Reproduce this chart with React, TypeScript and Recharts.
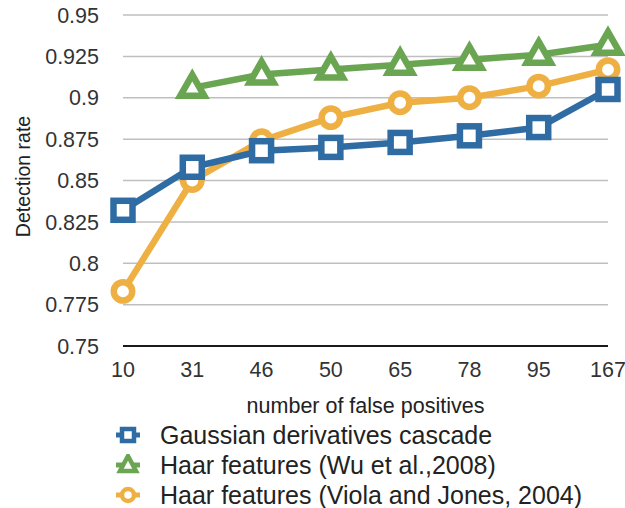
import React from 'react';
import { LineChart, Line, XAxis, YAxis, CartesianGrid, Legend } from 'recharts';

// number of false positives (x categories)
const falsePositives = ['10', '31', '46', '50', '65', '78', '95', '167'];
// detection rate per method
const gaussianCascade = [0.832, 0.858, 0.868, 0.87, 0.873, 0.877, 0.882, 0.905];
const haarWu = [null, 0.906, 0.914, 0.917, 0.92, 0.923, 0.926, 0.932];
const haarViola = [0.783, 0.85, 0.874, 0.888, 0.897, 0.9, 0.907, 0.917];
const rateTicks = [0.75, 0.775, 0.8, 0.825, 0.85, 0.875, 0.9, 0.925, 0.95];

const seriesNames = {
  gaussian: 'Gaussian derivatives cascade',
  wu: 'Haar features (Wu et al.,2008)',
  viola: 'Haar features (Viola and Jones, 2004)',
};

const data = falsePositives.map((fp, i) => ({
  fp,
  gaussian: gaussianCascade[i],
  wu: haarWu[i],
  viola: haarViola[i],
}));

const BLUE = '#2e6ca3';
const GREEN = '#6aa552';
const ORANGE = '#efb043';
const FONT = '"Liberation Sans", Arial, sans-serif';

const SquareDot = (props: any) => {
  const { cx, cy, index } = props;
  if (cx == null || cy == null) return <g key={`sq-${index}`} />;
  return (
    <rect key={`sq-${index}`} x={cx - 9.5} y={cy - 9.5} width={19} height={19}
      fill="#fff" stroke={BLUE} strokeWidth={6.5} />
  );
};

const TriangleDot = (props: any) => {
  const { cx, cy, index } = props;
  if (cx == null || cy == null) return <g key={`tr-${index}`} />;
  return (
    <path key={`tr-${index}`} d={`M${cx},${cy - 13} L${cx + 12},${cy + 8} L${cx - 12},${cy + 8} Z`}
      fill="#fff" stroke={GREEN} strokeWidth={6.5} strokeLinejoin="miter" />
  );
};

const CircleDot = (props: any) => {
  const { cx, cy, index } = props;
  if (cx == null || cy == null) return <g key={`ci-${index}`} />;
  return <circle key={`ci-${index}`} cx={cx} cy={cy} r={9.2} fill="#fff" stroke={ORANGE} strokeWidth={6.5} />;
};

const legendRows = [
  { key: 'gaussian', color: BLUE, shape: 'square' },
  { key: 'wu', color: GREEN, shape: 'triangle' },
  { key: 'viola', color: ORANGE, shape: 'circle' },
];

function LegendIcon({ color, shape }: { color: string; shape: string }) {
  return (
    <svg width={24} height={22} style={{ display: 'block' }}>
      <line x1={0} y1={11} x2={24} y2={11} stroke={color} strokeWidth={5} />
      {shape === 'square' && <rect x={6} y={5} width={12} height={12} fill="#fff" stroke={color} strokeWidth={4.5} />}
      {shape === 'triangle' && <path d="M12,2 L20,17 L4,17 Z" fill="#fff" stroke={color} strokeWidth={4.5} />}
      {shape === 'circle' && <circle cx={12} cy={11} r={6} fill="#fff" stroke={color} strokeWidth={4.5} />}
    </svg>
  );
}

function MethodLegend() {
  return (
    <div style={{ height: 90, fontFamily: FONT }}>
      {legendRows.map((r) => (
        <div key={r.key} style={{ display: 'flex', alignItems: 'center', height: 30 }}>
          <LegendIcon color={r.color} shape={r.shape} />
          <span style={{ marginLeft: 20, fontSize: 25, color: '#222', whiteSpace: 'nowrap' }}>
            {seriesNames[r.key as keyof typeof seriesNames]}
          </span>
        </div>
      ))}
    </div>
  );
}

const XTitle = ({ viewBox }: any) => (
  <text x={viewBox.x + viewBox.width / 2} y={viewBox.y + 67} textAnchor="middle"
    fontFamily={FONT} fontSize={21.5} fill="#222">
    number of false positives
  </text>
);

const YTitle = ({ viewBox }: any) => {
  const x = viewBox.x + 30;
  const y = viewBox.y + viewBox.height / 2 - 4;
  return (
    <text x={x} y={y} textAnchor="middle" transform={`rotate(-90, ${x}, ${y})`}
      fontFamily={FONT} fontSize={19.5} fill="#222">
      Detection rate
    </text>
  );
};

export default function App() {
  return (
    <div style={{ position: 'absolute', left: 0, top: 0, width: 625, height: 508, background: '#fff' }}>
      <LineChart width={625} height={508} data={data} margin={{ top: 15, right: 17, bottom: 12, left: 0 }}>
        <CartesianGrid vertical={false} stroke="#bfbfbf" strokeWidth={1.5} />
        <XAxis
          dataKey="fp"
          interval={0}
          tickLine={false}
          axisLine={{ stroke: '#1a1a1a', strokeWidth: 2 }}
          tick={{ fontSize: 21.5, fill: '#333', fontFamily: FONT }}
          tickMargin={10}
          height={60}
          label={<XTitle />}
        />
        <YAxis
          domain={[0.75, 0.95]}
          ticks={rateTicks}
          interval={0}
          axisLine={false}
          tickLine={false}
          tickMargin={18}
          width={123}
          tick={{ fontSize: 21.5, fill: '#333', fontFamily: FONT }}
          label={<YTitle />}
        />
        <Legend
          layout="horizontal"
          verticalAlign="bottom"
          align="left"
          content={<MethodLegend />}
          wrapperStyle={{ left: 116, top: 420, bottom: 'auto', width: 'auto', height: 90 }}
        />
        <Line dataKey="viola" name={seriesNames.viola} stroke={ORANGE} strokeWidth={6.5}
          dot={CircleDot} activeDot={false} isAnimationActive={false} />
        <Line dataKey="wu" name={seriesNames.wu} stroke={GREEN} strokeWidth={6.5}
          dot={TriangleDot} activeDot={false} isAnimationActive={false} />
        <Line dataKey="gaussian" name={seriesNames.gaussian} stroke={BLUE} strokeWidth={6.5}
          dot={SquareDot} activeDot={false} isAnimationActive={false} />
      </LineChart>
    </div>
  );
}
